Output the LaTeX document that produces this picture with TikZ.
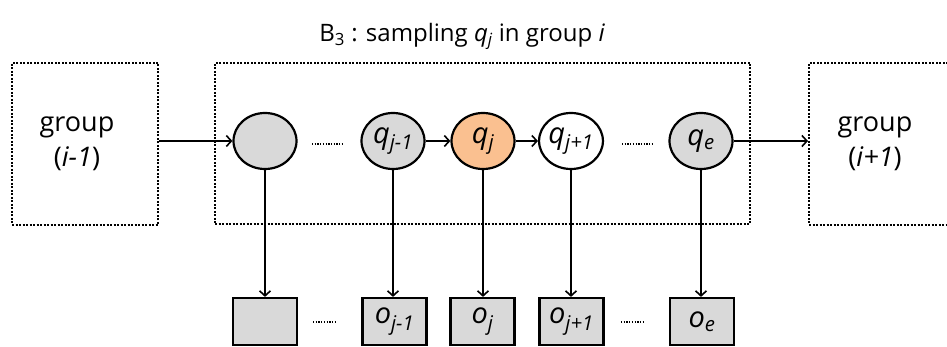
\documentclass[tikz,border=0pt]{standalone}
\usepackage{fontspec}
\setmainfont{Open Sans}
\usetikzlibrary{shapes.geometric,arrows.meta}
% italic variable with an italic subscript
\newcommand{\var}[2]{{\itshape #1}\textsubscript{\itshape #2}}
\begin{document}
\begin{tikzpicture}[x=1pt,y=-1pt,
  grpbox/.style={draw,line width=2.2pt,dash pattern=on 2pt off 1.5pt,rectangle,inner sep=0pt},
  state/.style={draw,ellipse,line width=2.2pt,fill=stategray,minimum width=63pt,minimum height=56pt,inner sep=0pt,font=\fontsize{29}{30}\selectfont},
  obs/.style={draw,rectangle,line width=2.2pt,fill=stategray,minimum width=64pt,minimum height=47pt,inner sep=0pt,font=\fontsize{29}{30}\selectfont},
  link/.style={line width=1.6pt,-{Straight Barb[length=5pt,width=11pt,line width=1.6pt]}},
  gap/.style={line width=1.8pt,dash pattern=on 1.3pt off 1.4pt},
  lbl/.style={font=\fontsize{27}{35}\selectfont,align=center,inner sep=0pt,anchor=base}
]
\definecolor{stategray}{HTML}{D9D9D9}
\definecolor{curorange}{HTML}{FAC090}
\useasboundingbox (0,0) rectangle (947,347);

% title
\node[font=\fontsize{24}{26}\selectfont,anchor=base,inner sep=0pt] (title) at (462,42) {B\textsubscript{3} : sampling \var{q}{j} in group {\itshape i}};

% group boxes
\node[grpbox,minimum width=146pt,minimum height=162pt] (gprev) at (85,144) {};
\node[grpbox,minimum width=535pt,minimum height=161pt] (gcur) at (482.5,143.5) {};
\node[grpbox,minimum width=160pt,minimum height=162pt,anchor=west] (gnext) at (808,144) {};
\node[lbl] (tprev) at (77,167) {group\\({\itshape i-1})};
\node[lbl] (tnext) at (875,167) {group\\({\itshape i+1})};

% hidden states
\node[state] (s1) at (265,141) {};
\node[state] (s2) at (393,141) {\var{q}{j-1}};
\node[state,fill=curorange] (s3) at (483,141) {\var{q}{j}};
\node[state,fill=white] (s4) at (571,141) {\var{q}{j+1}};
\node[state] (s5) at (701,141) {\var{q}{e}};

% observations
\node[obs] (o1) at (265,321.5) {};
\node[obs] (o2) at (394.5,321.5) {\var{o}{j-1}};
\node[obs] (o3) at (482.5,321.5) {\var{o}{j}};
\node[obs] (o4) at (571.5,321.5) {\var{o}{j+1}};
\node[obs] (o5) at (702,321.5) {\var{o}{e}};

% chain
\draw[link] (gprev.east |- s1) -- (s1);
\draw[link] (s2) -- (s3);
\draw[link] (s3) -- (s4);
\draw[link] (s5) -- (gnext.west |- s5);

% emissions
\foreach \s/\o in {s1/o1,s2/o2,s3/o3,s4/o4,s5/o5}
  \draw[link] (\s.south) -- (\s.south |- \o.north);

% omitted states and observations
\coordinate (d1a) at (312,144); \coordinate (d1b) at (343,144);
\coordinate (d2a) at (622,144); \coordinate (d2b) at (652,144);
\coordinate (d3a) at (313,322); \coordinate (d3b) at (335,322);
\coordinate (d4a) at (621,322); \coordinate (d4b) at (643,322);
\draw[gap] (d1a) -- (d1b);
\draw[gap] (d2a) -- (d2b);
\draw[gap] (d3a) -- (d3b);
\draw[gap] (d4a) -- (d4b);
\end{tikzpicture}
\end{document}
